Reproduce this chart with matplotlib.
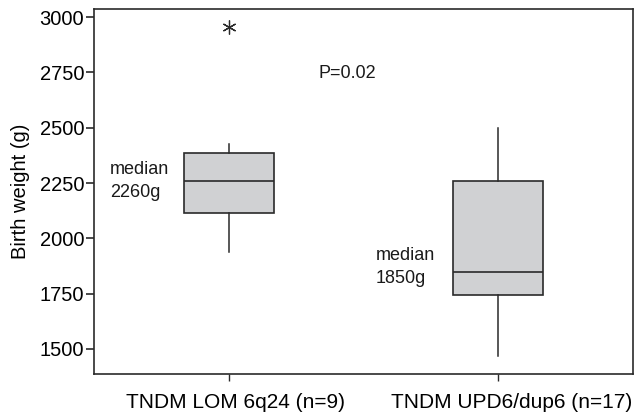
import matplotlib
matplotlib.use("Agg")
from matplotlib import pyplot as plt
from matplotlib.transforms import ScaledTranslation

plt.rcParams['font.family'] = ['Liberation Sans', 'DejaVu Sans']

# box statistics (birth weight, g)
groups = ['TNDM LOM 6q24 (n=9)', 'TNDM UPD6/dup6 (n=17)']
whisker_low = [1940, 1468]
q1 = [2115, 1746]
median = [2260, 1850]
q3 = [2388, 2260]
whisker_high = [2428, 2500]
outliers = [[2955], []]
yticks = [1500, 1750, 2000, 2250, 2500, 2750, 3000]

stats = []
for i, name in enumerate(groups):
    stats.append({'label': name, 'whislo': whisker_low[i], 'q1': q1[i],
                  'med': median[i], 'q3': q3[i], 'whishi': whisker_high[i],
                  'fliers': outliers[i]})

fig = plt.figure(figsize=(6.35, 4.16), dpi=100)
ax = fig.add_axes([0.148, 0.101, 0.849, 0.877])

edge = '#2a2a2a'
ax.bxp(stats, positions=[1, 2], widths=0.333, patch_artist=True,
       showcaps=False,
       boxprops=dict(facecolor='#d0d1d3', edgecolor=edge, linewidth=1.2),
       medianprops=dict(color=edge, linewidth=1.2),
       whiskerprops=dict(color=edge, linewidth=1.1),
       flierprops=dict(marker=(6, 2, 0), markersize=10, markeredgecolor=edge,
                       markeredgewidth=0.9, linestyle='none'))

ax.set_xlim(0.5, 2.5)
ax.set_ylim(1387, 3036)
ax.set_yticks(yticks)
ax.set_yticklabels([str(v) for v in yticks])
ax.set_ylabel('Birth weight (g)', fontsize=14.5, labelpad=7)

ax.tick_params(axis='y', labelsize=14.5, length=6, width=1.2, pad=1, color=edge)
ax.tick_params(axis='x', labelsize=15, length=5, width=1.0, pad=9, color=edge)
for s in ax.spines.values():
    s.set_linewidth(1.2)
    s.set_color(edge)

# the original category labels sit a little right of their ticks
for lab, dx in zip(ax.get_xticklabels(), [7, 13]):
    lab.set_transform(lab.get_transform() +
                      ScaledTranslation(dx / 100, 0, fig.dpi_scale_trans))

ax.text(0.559, 2258, 'median\n2260g', fontsize=13, va='center', ha='left',
        linespacing=1.45, color='#1a1a1a')
ax.text(1.544, 1872, 'median\n1850g', fontsize=13, va='center', ha='left',
        linespacing=1.45, color='#1a1a1a')
ax.text(1.333, 2745, 'P=0.02', fontsize=13, va='center', ha='left',
        color='#1a1a1a')

fig.savefig('out.png', dpi=100, facecolor='w')
